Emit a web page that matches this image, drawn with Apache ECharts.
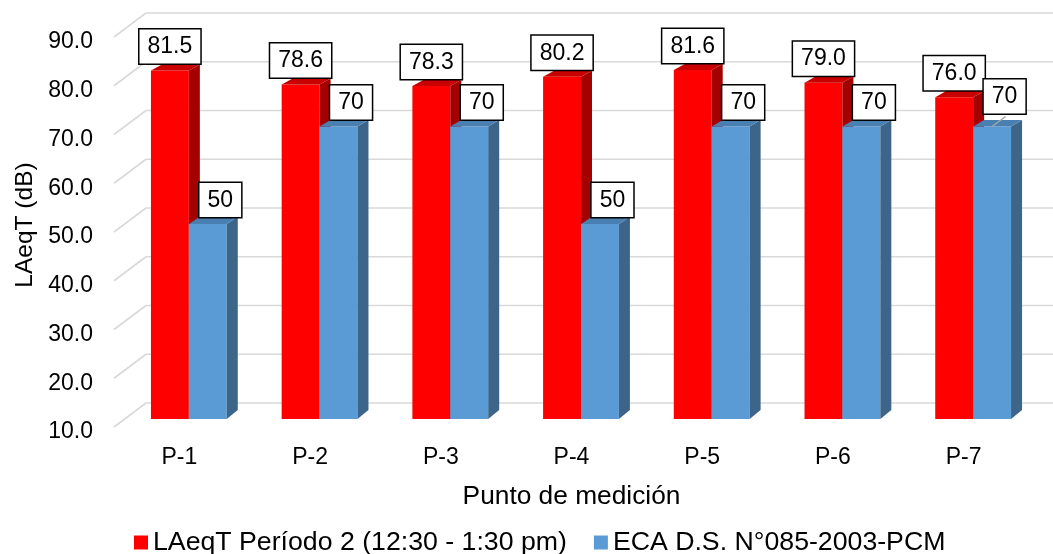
<!DOCTYPE html>
<html>
<head>
<meta charset="utf-8">
<script src="https://cdn.jsdelivr.net/npm/echarts@6/dist/echarts.min.js"></script>
<style>
  html, body { margin: 0; padding: 0; background: #ffffff; }
  #chart { width: 1053px; height: 554px; }
</style>
</head>
<body>
<div id="chart"></div>
<script>
// Measurement points and levels (dB)
const categories = ['P-1', 'P-2', 'P-3', 'P-4', 'P-5', 'P-6', 'P-7'];
const laeqPeriodo2 = [81.5, 78.6, 78.3, 80.2, 81.6, 79.0, 76.0];
const ecaLimite = [50, 70, 70, 50, 70, 70, 70];
const yTicks = [10, 20, 30, 40, 50, 60, 70, 80, 90];
const seriesNames = ['LAeqT Período 2 (12:30 - 1:30 pm)', 'ECA D.S. N°085-2003-PCM'];

const Y_MIN = yTicks[0];
const Y_MAX = yTicks[yTicks.length - 1];

// Pseudo-3D geometry (pixels)
const WALL_DX = 32, WALL_DY = -24;   // floor front edge -> back wall
const BAR_DX = 9.5, BAR_DY = -8;     // floor front edge -> bar front face
const SIDE_DX = 11;                  // bar depth, horizontal part
const BAR_FRACTION = 0.29;           // bar width relative to category band

// vertical part of the bar depth, slightly shallower for higher tops
function sideDy(y) {
  return -6 - 3 * (y - 71) / 348;
}

const FONT = 'Liberation Sans, Arial, sans-serif';

function wallRenderer(params, api) {
  const v = api.value(0);
  const cs = params.coordSys;
  const p = api.coord([0, v]);
  const xf = cs.x, yf = p[1];
  const xb = xf + WALL_DX, yb = yf + WALL_DY;
  const lineStyle = { stroke: '#d9d9d9', lineWidth: 1.6 };
  return {
    type: 'group',
    children: [
      { type: 'line', shape: { x1: xf, y1: yf, x2: xb, y2: yb }, style: lineStyle },
      { type: 'line', shape: { x1: xb, y1: yb, x2: api.getWidth(), y2: yb }, style: lineStyle }
    ]
  };
}

function makeBarRenderer(slot, colors, decimals, labelDx) {
  return function (params, api) {
    const idx = api.value(0);
    const val = api.value(1);
    const base = api.coord([idx, Y_MIN]);
    const top = api.coord([idx, val]);
    const band = api.size([1, 0])[0];
    const w = band * BAR_FRACTION;
    const pairCx = base[0] + BAR_DX;
    const x0 = slot === 0 ? pairCx - w : pairCx;
    const x1 = x0 + w;
    const yb = base[1] + BAR_DY;
    const yt = top[1] + BAR_DY;
    const dyT = sideDy(yt), dyB = sideDy(yb);

    const children = [
      { type: 'rect', shape: { x: x0, y: yt, width: w, height: yb - yt }, style: { fill: colors.front } },
      { type: 'polygon', shape: { points: [[x1, yt], [x1 + SIDE_DX, yt + dyT], [x1 + SIDE_DX, yb + dyB], [x1, yb]] }, style: { fill: colors.side } },
      { type: 'polygon', shape: { points: [[x0, yt], [x1, yt], [x1 + SIDE_DX, yt + dyT], [x0 + SIDE_DX, yt + dyT]] }, style: { fill: colors.top } }
    ];

    const faceCx = (x0 + x1) / 2;
    let labelBottom = yt - 7;
    const lifted = colors.liftLabel && colors.liftLabel.indexOf(categories[idx]) >= 0;
    if (lifted) {
      labelBottom -= 6;
      children.push({
        type: 'line', z2: 90,
        shape: { x1: faceCx + labelDx + 1, y1: labelBottom + 3, x2: faceCx, y2: yt },
        style: { stroke: '#a6a6a6', lineWidth: 1.5 }
      });
    }
    children.push({
      type: 'text', z2: 100,
      style: {
        text: val.toFixed(decimals),
        x: faceCx + labelDx,
        y: labelBottom,
        align: 'center',
        verticalAlign: 'bottom',
        font: '23px ' + FONT,
        fill: '#000000',
        backgroundColor: '#ffffff',
        borderColor: '#000000',
        borderWidth: 1.5,
        padding: [6, 8, 5, 8]
      }
    });
    return { type: 'group', children: children };
  };
}

const chart = echarts.init(document.getElementById('chart'), null, { renderer: 'canvas' });

const option = {
  backgroundColor: '#ffffff',
  animation: false,
  textStyle: { fontFamily: FONT },
  grid: { left: 114, right: 24, top: 37, bottom: 127, containLabel: false },
  legend: {
    data: seriesNames,
    left: 129,
    top: 524,
    icon: 'rect',
    itemWidth: 14,
    itemHeight: 14,
    itemGap: 27,
    textStyle: { fontSize: 26.7, color: '#000000', fontFamily: FONT }
  },
  xAxis: {
    type: 'category',
    data: categories,
    name: 'Punto de medición',
    nameLocation: 'middle',
    nameGap: 57,
    nameTextStyle: { fontSize: 26.3, color: '#000000', fontFamily: FONT },
    axisLine: { show: false },
    axisTick: { show: false },
    axisLabel: { fontSize: 23, color: '#000000', margin: 19.5, fontFamily: FONT },
    splitLine: { show: false }
  },
  yAxis: {
    type: 'value',
    min: Y_MIN,
    max: Y_MAX,
    interval: 10,
    name: 'LAeqT (dB)',
    nameLocation: 'middle',
    nameGap: 75,
    nameTextStyle: { fontSize: 24.5, color: '#000000', fontFamily: FONT, padding: [0, 0, 0, 14] },
    axisLine: { show: false },
    axisTick: { show: false },
    splitLine: { show: false },
    axisLabel: {
      fontSize: 23, color: '#000000', margin: 21, fontFamily: FONT,
      verticalAlign: 'top',
      lineHeight: 10,
      formatter: function (v) { return v.toFixed(1); }
    }
  },
  series: [
    {
      type: 'custom',
      name: 'wall',
      silent: true,
      z: 1,
      clip: false,
      renderItem: wallRenderer,
      data: yTicks.map(function (t) { return [t]; }),
      encode: { y: 0 }
    },
    {
      type: 'custom',
      name: seriesNames[0],
      z: 2,
      clip: false,
      itemStyle: { color: '#ff0000' },
      renderItem: makeBarRenderer(0, { front: '#ff0000', side: '#a50000', top: '#c80000' }, 1, 0),
      data: laeqPeriodo2.map(function (v, i) { return [i, v]; }),
      encode: { x: 0, y: 1 }
    },
    {
      type: 'custom',
      name: seriesNames[1],
      z: 2,
      clip: false,
      itemStyle: { color: '#5b9bd5' },
      renderItem: makeBarRenderer(1, { front: '#5b9bd5', side: '#3c6589', top: '#4a7fb2', liftLabel: ['P-7'] }, 0, 12.5),
      data: ecaLimite.map(function (v, i) { return [i, v]; }),
      encode: { x: 0, y: 1 }
    }
  ]
};

chart.setOption(option);
</script>
</body>
</html>
